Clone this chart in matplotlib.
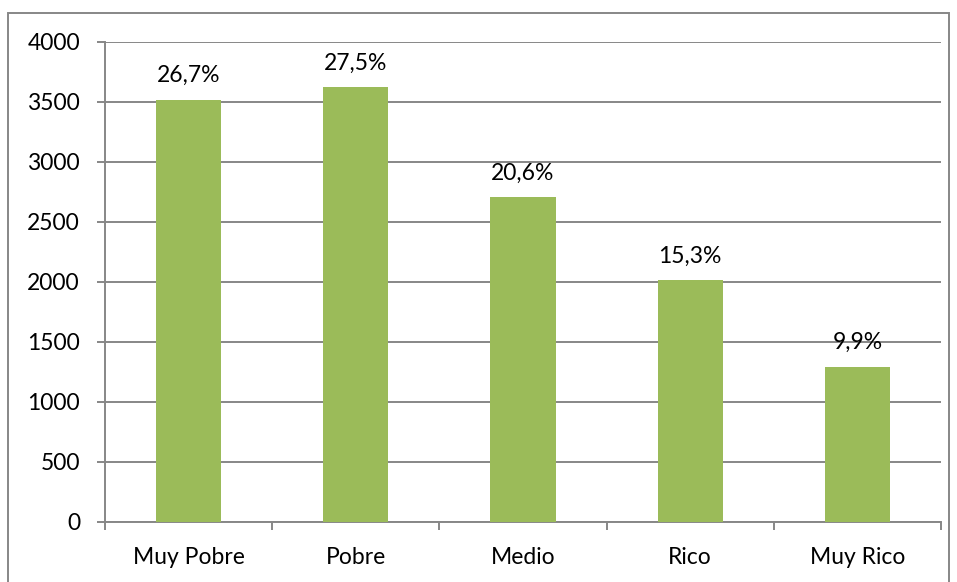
import matplotlib.pyplot as plt
from matplotlib.patches import Rectangle

categorias = ["Muy Pobre", "Pobre", "Medio", "Rico", "Muy Rico"]
valores = [3517, 3622, 2706, 2014, 1294]
porcentajes = ["26,7%", "27,5%", "20,6%", "15,3%", "9,9%"]

plt.rcParams['font.family'] = ['Lato', 'DejaVu Sans']

fig = plt.figure(figsize=(9.57, 5.82), dpi=100)
ax = fig.add_axes([105 / 957, 1 - 522 / 582, 836 / 957, 480 / 582])

x = range(len(categorias))
ax.bar(x, valores, width=0.39, color='#9BBB59', zorder=3)

for i, (v, p) in enumerate(zip(valores, porcentajes)):
    ax.annotate(p, (i, v), xytext=(0, 10), textcoords='offset points',
                ha='center', va='bottom', fontsize=16.5)

ax.set_xlim(-0.5, len(categorias) - 0.5)
ax.set_ylim(0, 4000)
ax.set_yticks(range(0, 4001, 500))
ax.set_xticks(list(x))
ax.set_xticklabels(categorias)
ax.set_xticks([i - 0.5 for i in range(len(categorias) + 1)], minor=True)

ax.grid(axis='y', color='#878787', linewidth=1.4, zorder=0)
for s in ['top', 'right']:
    ax.spines[s].set_visible(False)
for s in ['left', 'bottom']:
    ax.spines[s].set_color('#878787')
    ax.spines[s].set_linewidth(1.4)

ax.tick_params(axis='x', which='major', length=0, pad=18, labelsize=16.5)
ax.tick_params(axis='x', which='minor', length=6, color='#878787', width=1.4)
ax.tick_params(axis='y', length=6, color='#878787', width=1.4, pad=12, labelsize=16.5)

fig.patches.append(Rectangle((8 / 957, -0.05), 941 / 957, 1 - 13 / 582 + 0.05,
                             transform=fig.transFigure, fill=False,
                             edgecolor='#878787', linewidth=1.4))

fig.savefig('out.png', dpi=100)
